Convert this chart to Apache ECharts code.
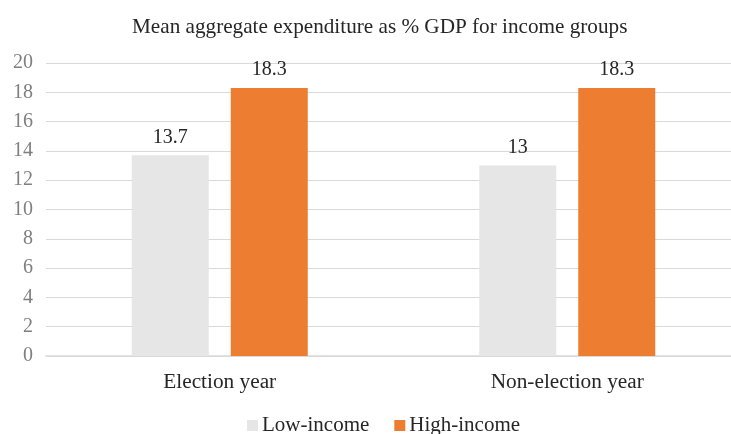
<!DOCTYPE html>
<html><head><meta charset="utf-8">
<script src="https://cdn.jsdelivr.net/npm/echarts@6/dist/echarts.min.js"></script>
<style>html,body{margin:0;padding:0;background:#fff}#c{width:731px;height:434px}</style>
</head><body><div id="c"></div>
<script>
const categories = ['Election year', 'Non-election year'];
const lowIncome = [13.7, 13];
const highIncome = [18.3, 18.3];
const yTicks = {min: 0, max: 20, interval: 2};
const font = '"Liberation Serif", "Times New Roman", serif';
const chart = echarts.init(document.getElementById('c'));
chart.setOption({
  animation: false,
  title: {text: 'Mean aggregate expenditure as % GDP for income groups', left: 127, top: 12,
    textStyle: {fontFamily: font, fontSize: 21.2, fontWeight: 'normal', color: '#262626'}},
  legend: {left: 242, bottom: -7, itemWidth: 11, itemHeight: 11, itemGap: 25, icon: 'rect',
    textStyle: {fontFamily: font, fontSize: 21, color: '#262626', padding: [0,0,0,-1]},
    data: ['Low-income', 'High-income']},
  grid: {left: 46, top: 63, width: 695, height: 293, containLabel: false, outerBoundsMode: 'none'},
  xAxis: {type: 'category', data: categories,
    axisLine: {lineStyle: {color: '#d9d9d9', width: 1.5}}, axisTick: {show: false},
    axisLabel: {fontFamily: font, fontSize: 21.3, color: '#262626', margin: 16}},
  yAxis: {type: 'value', min: yTicks.min, max: yTicks.max, interval: yTicks.interval,
    axisLine: {show: false}, axisTick: {show: false},
    splitLine: {lineStyle: {color: '#d9d9d9', width: 1.2}},
    axisLabel: {fontFamily: font, fontSize: 20, color: '#7f7f7f', margin: 13}},
  series: [
    {name: 'Low-income', type: 'bar', data: lowIncome, barWidth: 77, barGap: '28.6%',
      itemStyle: {color: '#e7e6e6'},
      label: {show: true, position: 'top', distance: 8, fontFamily: font, fontSize: 20, color: '#262626'}},
    {name: 'High-income', type: 'bar', data: highIncome, barWidth: 77, barGap: '28.6%',
      itemStyle: {color: '#ed7d31'},
      label: {show: true, position: 'top', distance: 8, fontFamily: font, fontSize: 20, color: '#262626'}}
  ]
});
</script></body></html>
